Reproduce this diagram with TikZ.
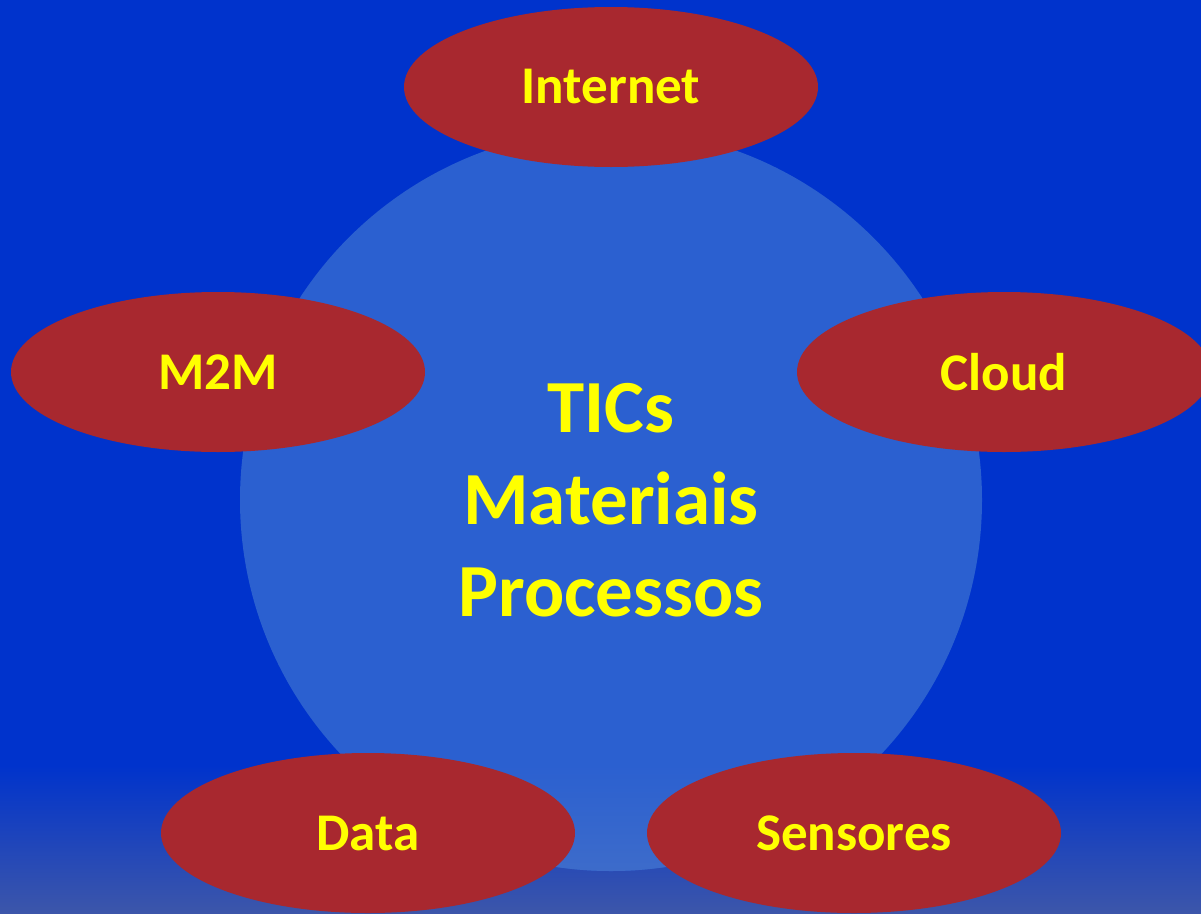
\documentclass[tikz,border=0pt]{standalone}
\usepackage{fontspec}
\setmainfont{Carlito}
\usetikzlibrary{shapes.geometric}
\definecolor{bgblue}{RGB}{0,51,204}
\definecolor{bgbottom}{RGB}{60,86,170}
\definecolor{coreblue}{RGB}{43,96,208}
\definecolor{corebottom}{RGB}{68,112,200}
\definecolor{petal}{RGB}{168,40,47}
\definecolor{txt}{RGB}{255,255,0}
\tikzset{
  petalnode/.style={ellipse, fill=petal, draw=none, minimum width=414pt, minimum height=160pt, inner sep=0pt,
    text=txt, font=\fontsize{53}{60}\selectfont\bfseries},
  corenode/.style={circle, fill=coreblue, draw=none, minimum size=742pt, inner sep=0pt},
  coretextstyle/.style={text=txt, align=center, font=\fontsize{75}{92}\selectfont\bfseries}
}
\begin{document}
\begin{tikzpicture}[x=1pt,y=-1pt]
\useasboundingbox (0,0) rectangle (1201,913);
\clip (0,0) rectangle (1201,913);
\fill[bgblue] (0,0) rectangle (1201,913);
\shade[top color=bgblue, bottom color=bgbottom] (0,765) rectangle (1201,913);
\node[corenode] (core) at (611,500) {};
\begin{scope}
\clip (611,500) circle (371);
\shade[top color=coreblue, bottom color=corebottom] (0,765) rectangle (1201,913);
\end{scope}
\node[coretextstyle] (coretext) at (core.center) {TICs\\Materiais\\Processos};
\node[petalnode] (internet) at (611,87) {Internet};
\node[petalnode] (m2m) at (218,372) {M2M};
\node[petalnode] (cloud) at (1004,372) {Cloud};
\node[petalnode] (data) at (368,833) {Data};
\node[petalnode] (sensores) at (854,833) {Sensores};
\end{tikzpicture}
\end{document}
